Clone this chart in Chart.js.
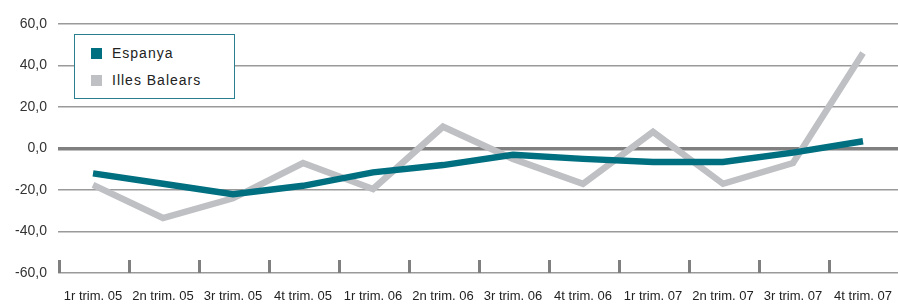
<!DOCTYPE html>
<html lang="ca">
<head>
    <meta charset="UTF-8">
    <title>Espanya / Illes Balears</title>
    <script src="https://cdn.jsdelivr.net/npm/chart.js"></script>
    <style>
        html, body { margin: 0; padding: 0; background: #fff; }
        .wrap { position: relative; width: 898px; height: 306px; }
        .legend {
            position: absolute; left: 74px; top: 34px; width: 161px; height: 65px;
            border: 1px solid #2a7f8e; background: #fff; box-sizing: border-box;
            font-family: "Liberation Sans", Arial, sans-serif; font-size: 14px;
            letter-spacing: 1px; color: #222;
        }
        .legend div { position: absolute; left: 16px; }
        .legend span { display: inline-block; width: 11px; height: 11px; margin-right: 10px; vertical-align: -1px; }
    </style>
</head>
<body>
<div class="wrap">
    <canvas id="chart" width="898" height="306"></canvas>
    <div class="legend">
        <div style="top:10px"><span style="background:#006f80"></span>Espanya</div>
        <div style="top:37px"><span style="background:#bfc0c4"></span>Illes Balears</div>
    </div>
</div>
<script>
    // Dades llegides del gràfic
    const trimestres = ['1r trim. 05', '2n trim. 05', '3r trim. 05', '4t trim. 05',
        '1r trim. 06', '2n trim. 06', '3r trim. 06', '4t trim. 06',
        '1r trim. 07', '2n trim. 07', '3r trim. 07', '4t trim. 07'];
    const espanya = [-12, -17, -22, -18, -11.5, -8, -3, -5, -6.5, -6.5, -2, 3.5];
    const balears = [-17.5, -33.5, -24, -7, -19.5, 10.5, -5, -17, 8, -17, -7, 46];
    const yTicks = [-60, -40, -20, 0, 20, 40, 60];

    // marques verticals a la base de cada categoria
    const tickMarks = {
        id: 'tickMarks',
        afterDatasetsDraw(chart) {
            const { ctx, chartArea, scales } = chart;
            const x = scales.x, y = scales.y;
            const w = (chartArea.right - chartArea.left) / trimestres.length;
            const base = y.getPixelForValue(-60);
            ctx.save();
            ctx.strokeStyle = '#7f7f7f';
            ctx.lineWidth = 3;
            trimestres.forEach((t, i) => {
                const px = x.getPixelForValue(i) - w / 2 + 1.5;
                ctx.beginPath();
                ctx.moveTo(px, base);
                ctx.lineTo(px, base - 13);
                ctx.stroke();
            });
            ctx.restore();
        }
    };

    new Chart(document.getElementById('chart'), {
        type: 'line',
        data: {
            labels: trimestres,
            datasets: [{
                label: 'Illes Balears',
                data: balears,
                borderColor: '#bfc0c4',
                borderWidth: 6.5,
                pointRadius: 0,
                tension: 0,
                order: 2
            }, {
                label: 'Espanya',
                data: espanya,
                borderColor: '#006f80',
                borderWidth: 6.5,
                pointRadius: 0,
                tension: 0,
                order: 1
            }]
        },
        options: {
            responsive: false,
            animation: false,
            layout: { padding: { top: 24, right: 0, left: 0, bottom: 0 } },
            plugins: { legend: { display: false }, tooltip: { enabled: false } },
            scales: {
                x: {
                    offset: true,
                    border: { display: false },
                    grid: { display: false, drawTicks: false },
                    ticks: {
                        padding: 16,
                        color: '#222',
                        maxRotation: 0,
                        font: { family: '"Liberation Sans Narrow", "Liberation Sans", Arial, sans-serif', size: 13 }
                    },
                    afterFit(s) { s.height = 33; s.paddingLeft = 0; s.paddingRight = 0; }
                },
                y: {
                    min: -60,
                    max: 60,
                    afterBuildTicks(s) { s.ticks = yTicks.map(v => ({ value: v })); },
                    border: { display: false },
                    grid: {
                        drawTicks: false,
                        color: ctx => ctx.tick.value === 0 ? '#808080' : '#9a9a9a',
                        lineWidth: ctx => ctx.tick.value === 0 ? 3.5 : 1.5
                    },
                    ticks: {
                        padding: 11,
                        color: '#333',
                        font: { family: '"Liberation Sans", Arial, sans-serif', size: 14 },
                        callback: v => v.toFixed(1).replace('.', ',')
                    },
                    afterFit(s) { s.width = 58; }
                }
            }
        },
        plugins: [tickMarks]
    });
</script>
</body>
</html>
